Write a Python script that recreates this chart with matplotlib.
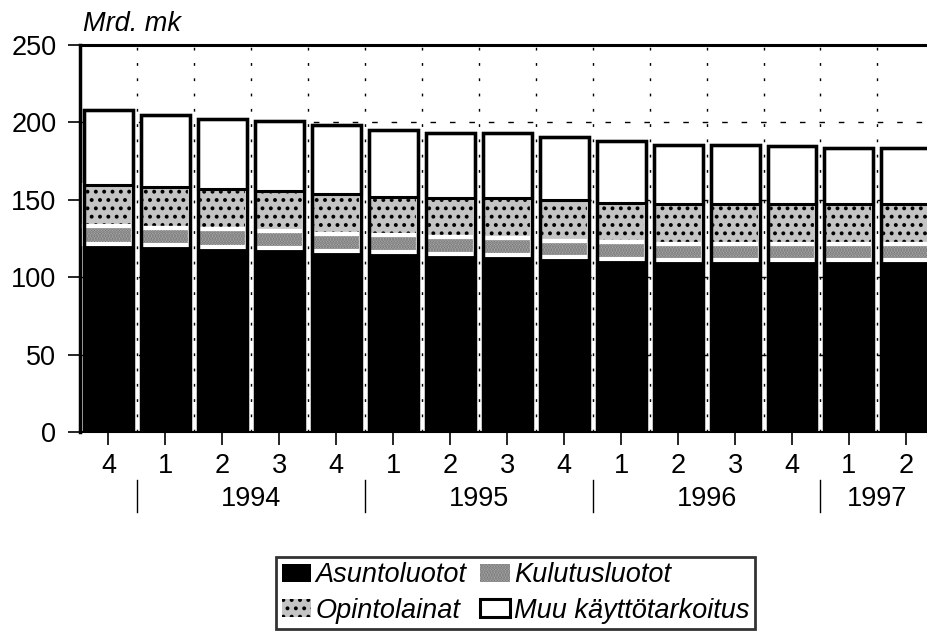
import numpy as np
import matplotlib
matplotlib.use("Agg")
import matplotlib.pyplot as plt
from matplotlib.transforms import blended_transform_factory

plt.rcParams["font.family"] = ["Liberation Sans", "DejaVu Sans"]
plt.rcParams["hatch.linewidth"] = 1.6

# Quarter labels and years (first bar is 1993 Q4)
quarters = ["4", "1", "2", "3", "4", "1", "2", "3", "4", "1", "2", "3", "4", "1", "2"]
years = ["1994", "1995", "1996", "1997"]

# Household loans by purpose, bn FIM
asuntoluotot = [121.5, 120.5, 119.5, 119, 117, 116, 115, 114.5, 113, 112, 111, 111, 111, 111, 111]
kulutusluotot = [11.5, 11.5, 11.5, 11, 11, 11, 11, 11, 10.5, 10.5, 10.5, 10.5, 10.5, 10.5, 10.5]
opintolainat = [26.5, 26, 26, 26, 26, 25, 25, 25.5, 26.5, 25.5, 25.5, 25.5, 25.5, 25.5, 26]
muu = [48.5, 47, 45.5, 45, 44, 43, 42, 42, 40.5, 40, 38.5, 38.5, 37.5, 36.5, 36]

FS = 19.5

fig = plt.figure(figsize=(9.27, 6.32), dpi=100)
ax = fig.add_axes([0.0863, 0.3165, 0.9137, 0.6123])

x = np.arange(len(quarters))
w = 0.86
b1 = np.array(asuntoluotot)
b2 = b1 + np.array(kulutusluotot)
b3 = b2 + np.array(opintolainat)
total = b3 + np.array(muu)

# segments
h_as = ax.bar(x, asuntoluotot, w, color="black", linewidth=0, zorder=2)
h_ku = ax.bar(x, kulutusluotot, w, bottom=b1, color="#b4b4b4", hatch="......",
              edgecolor="#707070", linewidth=0, zorder=2)
h_op = ax.bar(x, opintolainat, w, bottom=b2, color="#c4c4c4", hatch="..",
              edgecolor="black", linewidth=0, zorder=2)
h_mu = ax.bar(x, muu, w, bottom=b3, color="white", edgecolor="black",
              linewidth=2.2, zorder=2)
# white gaps around the patterned segments
ax.bar(x, kulutusluotot, w, bottom=b1, fill=False, edgecolor="white", linewidth=3, zorder=3)
ax.bar(x, opintolainat, w, bottom=b2, fill=False, edgecolor="white", linewidth=3, zorder=3)
ax.bar(x, muu, w, bottom=b3, fill=False, edgecolor="black", linewidth=2.2, zorder=4)
# outer outline of each bar
ax.bar(x, total, w, fill=False, edgecolor="black", linewidth=2.5, zorder=5)

ax.set_xlim(-0.5, 14.37)
ax.set_ylim(0, 250)
ax.set_yticks(np.arange(0, 251, 50))
ax.set_xticks(x)
ax.set_xticklabels(quarters)
ax.set_xticks(x[:-1] + 0.5, minor=True)
ax.tick_params(axis="both", which="major", labelsize=FS, length=9, width=1.2,
               direction="out", color="black")
ax.tick_params(axis="x", which="major", pad=6)
ax.tick_params(axis="y", which="major", pad=8)
ax.tick_params(axis="x", which="minor", length=0)

ax.grid(axis="x", which="minor", color="black", linestyle=(0, (2, 9)), linewidth=1, zorder=0)
ax.yaxis.grid(True, color="black", linestyle=(0, (4, 10)), linewidth=1, zorder=0)
ax.set_axisbelow(True)

ax.spines["right"].set_visible(False)
ax.spines["top"].set_linewidth(2.2)
ax.spines["left"].set_linewidth(2.5)
ax.spines["bottom"].set_linewidth(1.5)

ax.text(0.004, 1.02, "Mrd. mk", transform=ax.transAxes, fontsize=FS,
        style="italic", ha="left", va="bottom")

# year labels and separators
trans = blended_transform_factory(ax.transData, ax.transAxes)
starts = [i for i, q in enumerate(quarters) if q == "1"]
for k, s in enumerate(starts):
    ax.plot([s - 0.5, s - 0.5], [-0.124, -0.207], color="black", linewidth=1,
            transform=trans, clip_on=False)
    end = min(s + 3, len(quarters) - 1)
    ax.text((s + end) / 2, -0.172, years[k], transform=trans, fontsize=FS,
            ha="center", va="center")

handles = [h_as, h_op, h_ku, h_mu]
labels = ["Asuntoluotot", "Opintolainat", "Kulutusluotot", "Muu käyttötarkoitus"]
leg = fig.legend(handles, labels, ncol=2, loc="upper left",
                 bbox_to_anchor=(0.298, 0.119), prop={"size": FS, "style": "italic"},
                 frameon=True, fancybox=False, edgecolor="black", borderpad=0.2,
                 handlelength=1.1, handleheight=0.65, handletextpad=0.15,
                 columnspacing=0.5, labelspacing=0.35, borderaxespad=0)
leg.get_frame().set_linewidth(2)

fig.savefig("out.png", dpi=100)
